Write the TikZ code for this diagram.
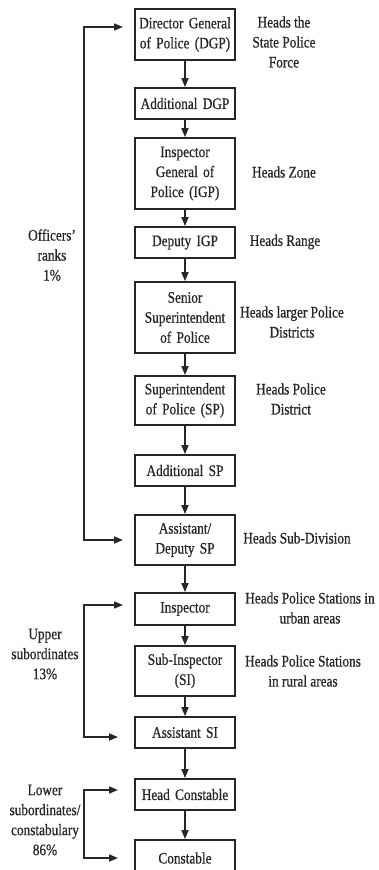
\documentclass[tikz,border=0pt]{standalone}
\usepackage{fontspec}
\setmainfont{Liberation Serif}[FakeStretch=0.83,FakeBold=0.6]
\usetikzlibrary{arrows.meta}
\definecolor{ink}{HTML}{262626}
\tikzset{
  rank/.style={draw=ink, line width=1.8pt, text=ink, minimum width=100pt, text width=94pt,
    align=center, inner sep=2pt, font=\fontsize{16}{20}\selectfont},
  note/.style={text=ink, align=center, inner sep=0pt, font=\fontsize{16}{20}\selectfont},
  link/.style={draw=ink, line width=1.6pt, -{Triangle[length=9pt,width=7pt]}},
  bilink/.style={draw=ink, line width=1.6pt, {Triangle[length=9pt,width=7pt]}-{Triangle[length=9pt,width=7pt]}},
}
\begin{document}
\begin{tikzpicture}[x=1pt,y=-1pt]
\useasboundingbox (0,0) rectangle (379,870);
\fill[white] (0,0) rectangle (379,870);
% rank boxes
\node[rank, minimum height=51pt] (dgp)  at (185,34.5) {Director General\\of Police (DGP)};
\node[rank, minimum height=31pt] (adgp) at (185,103.5) {Additional DGP};
\node[rank, minimum height=71pt] (igp)  at (185,173.5) {Inspector\\General of\\Police (IGP)};
\node[rank, minimum height=31pt] (digp) at (185,242.5) {Deputy IGP};
\node[rank, minimum height=71pt] (ssp)  at (185,317.5) {Senior\\Superintendent\\of Police};
\node[rank, minimum height=49pt] (sp)   at (185,400.5) {Superintendent\\of Police (SP)};
\node[rank, minimum height=31pt] (asp)  at (185,470.5) {Additional SP};
\node[rank, minimum height=50pt] (dsp)  at (185,540) {Assistant/\\Deputy SP};
\node[rank, minimum height=32pt] (insp) at (185,609) {Inspector};
\node[rank, minimum height=50pt] (si)   at (185,671) {Sub-Inspector\\(SI)};
\node[rank, minimum height=31pt] (asi)  at (185,732.5) {Assistant SI};
\node[rank, minimum height=31pt] (hc)   at (185,794.5) {Head Constable};
\node[rank, minimum height=36pt] (con)  at (185,858) {Constable};
% vertical chain
\draw[link] (dgp) -- (adgp);
\draw[link] (adgp) -- (igp);
\draw[link] (igp) -- (digp);
\draw[link] (digp) -- (ssp);
\draw[link] (ssp) -- (sp);
\draw[link] (sp) -- (asp);
\draw[link] (asp) -- (dsp);
\draw[link] (dsp) -- (insp);
\draw[link] (insp) -- (si);
\draw[link] (si) -- (asi);
\draw[link] (asi) -- (hc);
\draw[link] (hc) -- (con);
% right notes
\node[note] (n1) at (284,42) {Heads the\\State Police\\Force};
\node[note] (n2) at (284,172) {Heads Zone};
\node[note] (n3) at (285,242) {Heads Range};
\node[note] (n4) at (292,322) {Heads larger Police\\Districts};
\node[note] (n5) at (291,399) {Heads Police\\District};
\node[note] (n6) at (297,538) {Heads Sub-Division};
\node[note] (n7) at (310,608) {Heads Police Stations in\\urban areas};
\node[note] (n8) at (303,671) {Heads Police Stations\\in rural areas};
% left groups
\node[note] (g1) at (52,255) {Officers'\\ranks\\1\%};
\node[note] (g2) at (45,654) {Upper\\subordinates\\13\%};
\node[note] (g3) at (45,820) {Lower\\subordinates/\\constabulary\\86\%};
% brackets
\coordinate (t1) at (123,27);  \coordinate (c1) at (84,27);
\coordinate (c2) at (84,540);  \coordinate (t2) at (123,540);
\draw[bilink] (t1) -- (c1) -- (c2) -- (t2);
\coordinate (t3) at (123,605); \coordinate (c3) at (84,605);
\coordinate (c4) at (84,737);  \coordinate (t4) at (118,737);
\draw[bilink] (t3) -- (c3) -- (c4) -- (t4);
\coordinate (t5) at (118,790); \coordinate (c5) at (84,790);
\coordinate (c6) at (84,858);  \coordinate (t6) at (118,858);
\draw[bilink] (t5) -- (c5) -- (c6) -- (t6);
\end{tikzpicture}
\end{document}
